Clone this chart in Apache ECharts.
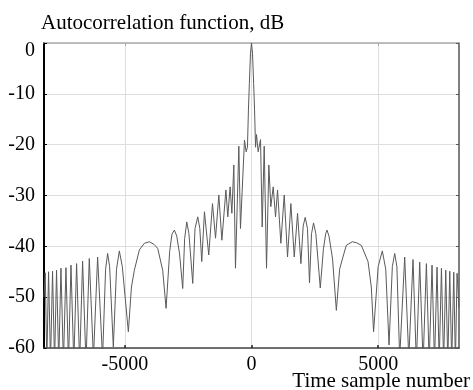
<!DOCTYPE html>
<html>
<head>
<meta charset="utf-8">
<script src="https://cdn.jsdelivr.net/npm/echarts@6/dist/echarts.min.js"></script>
<style>
  html, body { margin: 0; padding: 0; background: #fff; }
  #chart { width: 473px; height: 390px; }
</style>
</head>
<body>
<div id="chart"></div>
<script>
// Time sample number (x) and autocorrelation level in dB, read lobe by lobe
const sampleNum = [
  -8192, -8143, -8080, -8012, -7935, -7854, -7775, -7697, -7610, -7523,
  -7425, -7325, -7225, -7127, -7015, -6905, -6785, -6668, -6535, -6404,
  -6240, -6075, -5880, -5760, -5680, -5600, -5455, -5330, -5218, -5100,
  -4862, -4740, -4625, -4427, -4230, -4032, -3850, -3703, -3506, -3372,
  -3230, -3140, -3044, -2950, -2840, -2715, -2640, -2556, -2470, -2320,
  -2230, -2122, -2040, -1964, -1858, -1688, -1540, -1420, -1290, -1170,
  -1010, -936, -845, -775, -698, -632, -500, -435, -277, -211,
  -160, -120, -85, -40, 0, 40, 85, 120, 160, 198,
  263, 356, 422, 501, 593, 685, 763, 857, 949, 1028,
  1159, 1292, 1423, 1554, 1688, 1818, 1950, 2040, 2120, 2210,
  2290, 2370, 2450, 2540, 2715, 2840, 2930, 2980, 3060, 3200,
  3350, 3480, 3610, 3743, 3980, 4150, 4336, 4600, 4730, 4820,
  5000, 5165, 5300, 5430, 5560, 5653, 5740, 5850, 6048, 6210,
  6377, 6510, 6641, 6775, 6905, 7015, 7127, 7225, 7325, 7410,
  7499, 7585, 7669, 7750, 7827, 7905, 7985, 8050, 8115, 8192
];
const acfDb = [
  -50, -45.2, -63, -45.0, -63, -44.9, -63, -44.7, -63, -44.3,
  -63, -44.2, -63, -43.7, -63, -43.4, -63, -42.9, -63, -42.4,
  -62, -42.1, -62, -44.5, -41.4, -44.0, -59.8, -44.5, -40.9, -44.0,
  -56.8, -48, -44.7, -40.7, -39.4, -39.1, -39.6, -40.4, -44.7, -52.2,
  -41.0, -37.6, -36.8, -38.0, -41.5, -48.3, -38.5, -35.2, -37.5, -47.3,
  -36.5, -34.2, -36.5, -43.0, -33.2, -41.7, -31.6, -38.4, -29.9, -38.8,
  -28.9, -34.2, -28.3, -33.5, -24.0, -44.3, -20.3, -36.5, -19.1, -21.4,
  -20.5, -13, -8, -2, 0, -2, -8, -13, -20.5, -18.0,
  -21.4, -19.0, -36.2, -20.3, -44.3, -24.0, -32.2, -28.3, -34.2, -28.9,
  -39.4, -29.9, -42.1, -31.6, -42.1, -33.5, -43.4, -36.0, -34.3, -36.5,
  -47.2, -37.5, -35.4, -37.5, -48.2, -40.5, -37.5, -36.8, -38.0, -42.5,
  -52.6, -44.5, -42.1, -39.8, -39.1, -39.3, -39.8, -43.0, -48.0, -56.8,
  -44.0, -40.9, -44.5, -59.4, -44.0, -41.4, -44.0, -62, -42.1, -62,
  -42.6, -63, -43.1, -63, -43.4, -63, -43.7, -63, -44.1, -63,
  -44.3, -63, -44.7, -63, -44.9, -63, -45.1, -63, -45.3, -52
];
const xTicks = [-5000, 0, 5000];

const serif = '"Liberation Serif", "Times New Roman", serif';
const gridColor = '#dedede';

const chart = echarts.init(document.getElementById('chart'));
const option = {
  animation: false,
  backgroundColor: '#fff',
  title: {
    text: 'Time sample number',
    right: 3, bottom: -2, padding: 0,
    textStyle: { fontFamily: serif, fontSize: 21, fontWeight: 'normal', color: '#000' }
  },
  grid: { left: 44, right: 14, top: 43, bottom: 42, containLabel: false, outerBoundsMode: 'none' },
  xAxis: [{
    type: 'value', min: -8192, max: 8192, position: 'bottom',
    axisLine: { show: true, onZero: false, lineStyle: { color: '#444', width: 1.5 } },
    axisTick: { show: true, inside: true, length: 3, customValues: xTicks, lineStyle: { color: '#222', width: 1.5 } },
    axisLabel: { customValues: xTicks, formatter: v => String(v), fontFamily: serif, fontSize: 20, color: '#000', margin: 7 },
    splitLine: { show: true, lineStyle: { color: gridColor, width: 1 } }
  }, {
    type: 'value', min: -8192, max: 8192, position: 'top',
    axisLine: { show: true, onZero: false, lineStyle: { color: '#aaa', width: 1.5 } },
    axisTick: { show: true, inside: true, length: 3, customValues: xTicks, lineStyle: { color: '#aaa' } },
    axisLabel: { show: false },
    splitLine: { show: false }
  }],
  yAxis: [{
    type: 'value', min: -60, max: 0, interval: 10, position: 'left',
    name: 'Autocorrelation function, dB', nameLocation: 'end', nameGap: 9,
    nameTextStyle: { fontFamily: serif, fontSize: 21, color: '#000', align: 'left', padding: [0, 0, 0, -3] },
    axisLine: { show: true, onZero: false, lineStyle: { color: '#000', width: 2 } },
    axisTick: { show: true, inside: true, length: 3, lineStyle: { color: '#000' } },
    axisLabel: {
      fontFamily: serif, fontSize: 20, color: '#000', margin: 9,
      formatter: v => (v === 0 ? '{z|0}' : String(v)),
      rich: { z: { fontFamily: serif, fontSize: 20, color: '#000', padding: [16, 0, 0, 0] } }
    },
    splitLine: { show: true, lineStyle: { color: gridColor, width: 1 } }
  }, {
    type: 'value', min: -60, max: 0, interval: 10, position: 'right',
    axisLine: { show: true, onZero: false, lineStyle: { color: '#555', width: 1.5 } },
    axisTick: { show: true, inside: true, length: 3, lineStyle: { color: '#555' } },
    axisLabel: { show: false },
    splitLine: { show: false }
  }],
  series: [{
    type: 'line',
    xAxisIndex: 0, yAxisIndex: 0,
    data: sampleNum.map((x, i) => [x, acfDb[i]]),
    showSymbol: false,
    clip: true,
    lineStyle: { color: '#5a5a5a', width: 1 }
  }]
};
chart.setOption(option);
</script>
</body>
</html>
